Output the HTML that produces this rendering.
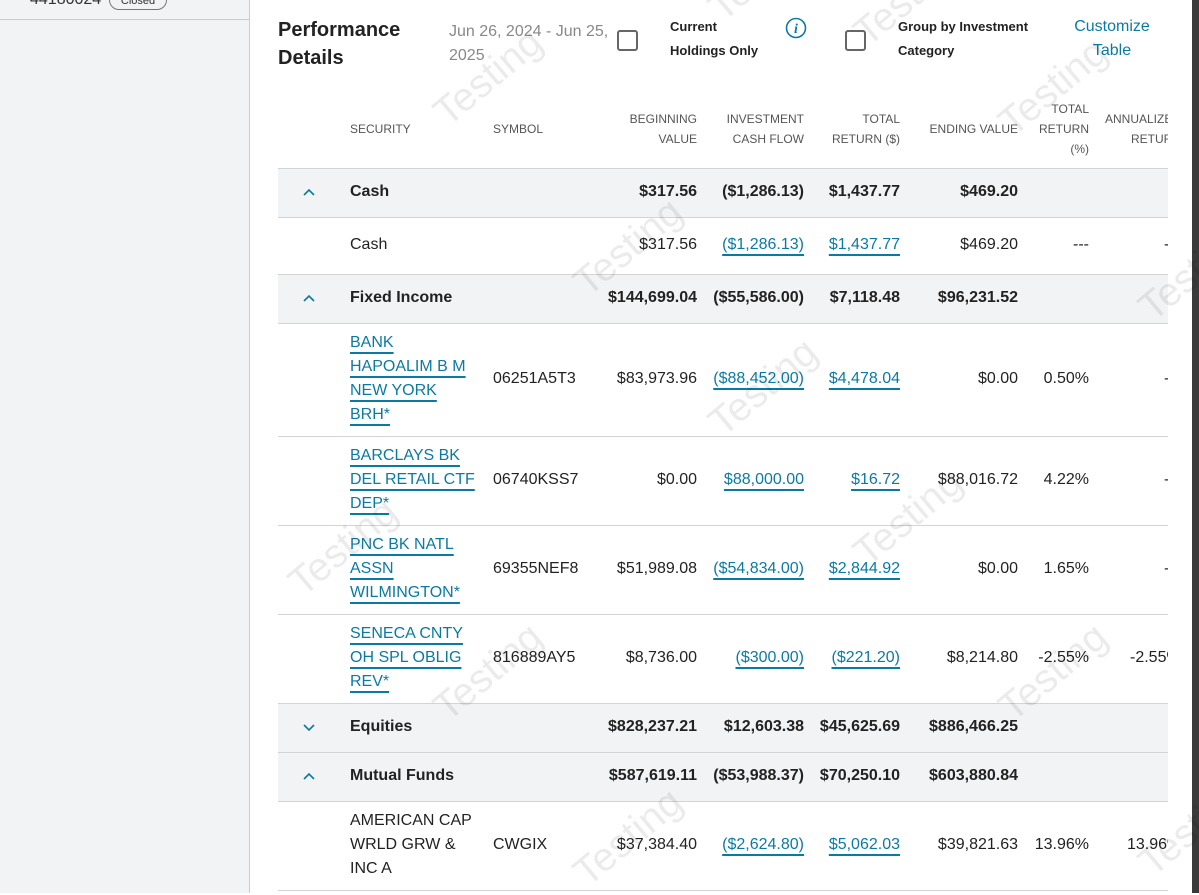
<!DOCTYPE html>
<html><head><meta charset="utf-8">
<style>
*{margin:0;padding:0;box-sizing:border-box}
body{width:1199px;height:893px;overflow:hidden;position:relative;background:#fff;font-family:"Liberation Sans",Arial,sans-serif;color:#222}
.a{position:absolute;white-space:nowrap}
.side{left:0;top:0;width:250px;height:893px;background:#f2f3f5;border-right:1px solid #ccc}
.band{left:278px;width:890px;background:#f2f3f5}
.hl{left:278px;width:890px;height:1px;background:#d4d4d4}
.h{font-size:12px;color:#555;line-height:20px;text-align:right}
.t{font-size:16px;line-height:18px}
.b{font-weight:bold}
.lk{color:#0b7aa3;text-decoration:underline;text-decoration-thickness:2px;text-underline-offset:5px}
.sec{font-size:16px;line-height:24px;left:350px}
.chev{left:302px;width:14px;height:14px}
.wm{font-size:40px;color:rgba(0,0,0,0.08);transform:rotate(-40deg);transform-origin:center;font-family:"Liberation Sans",sans-serif}
.clip{position:absolute;left:0;top:0;width:1168px;height:893px;overflow:hidden}
</style></head><body>
<div class="a side"></div>
<div class="a" style="left:0;top:19px;width:249px;height:1px;background:#ccc"></div>
<div class="a t" style="left:30px;top:-9px;color:#333">44180024</div>
<div class="a" style="left:109px;top:-14px;width:58px;height:24px;border:1.5px solid #777;border-radius:10px;font-size:11px;text-align:center;line-height:28px;color:#333">Closed</div>
<div class="a" style="left:1192px;top:0;width:7px;height:893px;background:#3a3a3a"></div>

<div class="a b" style="left:278px;top:16px;font-size:20px;line-height:28px">Performance<br>Details</div>
<div class="a" style="left:449px;top:20px;font-size:16px;line-height:24px;color:#888">Jun 26, 2024 - Jun 25,<br>2025</div>
<div class="a" style="left:617px;top:30px;width:21px;height:21px;border:2px solid #666;border-radius:3px"></div>
<div class="a b" style="left:670px;top:15px;font-size:13px;line-height:24px">Current<br>Holdings Only</div>
<svg class="a" style="left:785px;top:17px" width="22" height="22"><circle cx="11" cy="11" r="9.5" fill="none" stroke="#0b7aa3" stroke-width="1.6"/><text x="11" y="16" text-anchor="middle" font-size="14" font-style="italic" font-weight="bold" fill="#0b7aa3" font-family="Liberation Serif">i</text></svg>
<div class="a" style="left:845px;top:30px;width:21px;height:21px;border:2px solid #666;border-radius:3px"></div>
<div class="a b" style="left:898px;top:15px;font-size:13px;line-height:24px">Group by Investment<br>Category</div>
<div class="a" style="left:1062px;top:15px;width:100px;font-size:16px;line-height:24px;color:#0b7aa3;text-align:center">Customize<br>Table</div>

<div class="clip">
<div class="a h" style="left:350px;top:119px;text-align:left">SECURITY</div>
<div class="a h" style="left:493px;top:119px;text-align:left">SYMBOL</div>
<div class="a h" style="right:471px;top:109px">BEGINNING<br>VALUE</div>
<div class="a h" style="right:364px;top:109px">INVESTMENT<br>CASH FLOW</div>
<div class="a h" style="right:268px;top:109px">TOTAL<br>RETURN ($)</div>
<div class="a h" style="right:150px;top:119px">ENDING VALUE</div>
<div class="a h" style="right:79px;top:99px">TOTAL<br>RETURN<br>(%)</div>
<div class="a h" style="left:1105px;top:109px">ANNUALIZED<br>&nbsp;&nbsp;&nbsp;&nbsp;&nbsp;&nbsp;&nbsp;RETURN</div>

<div class="a band" style="top:168px;height:49px"></div>
<div class="a band" style="top:274px;height:49px"></div>
<div class="a band" style="top:703px;height:98px"></div>
<div class="a hl" style="top:168px"></div>
<div class="a hl" style="top:217px"></div>
<div class="a hl" style="top:274px"></div>
<div class="a hl" style="top:323px"></div>
<div class="a hl" style="top:436px"></div>
<div class="a hl" style="top:525px"></div>
<div class="a hl" style="top:614px"></div>
<div class="a hl" style="top:703px"></div>
<div class="a hl" style="top:752px"></div>
<div class="a hl" style="top:801px"></div>
<div class="a hl" style="top:890px"></div>

<svg class="a chev" style="top:185px" viewBox="0 0 14 14"><path d="M2 10 L7 5 L12 10" fill="none" stroke="#0b7aa3" stroke-width="1.6"/></svg>
<svg class="a chev" style="top:291px" viewBox="0 0 14 14"><path d="M2 10 L7 5 L12 10" fill="none" stroke="#0b7aa3" stroke-width="1.6"/></svg>
<svg class="a chev" style="top:720px" viewBox="0 0 14 14"><path d="M2 5 L7 10 L12 5" fill="none" stroke="#0b7aa3" stroke-width="1.6"/></svg>
<svg class="a chev" style="top:769px" viewBox="0 0 14 14"><path d="M2 10 L7 5 L12 10" fill="none" stroke="#0b7aa3" stroke-width="1.6"/></svg>

<div class="a t b" style="left:350px;top:183px">Cash</div>
<div class="a t b" style="right:471px;top:183px">$317.56</div>
<div class="a t b" style="right:364px;top:183px">($1,286.13)</div>
<div class="a t b" style="right:268px;top:183px">$1,437.77</div>
<div class="a t b" style="right:150px;top:183px">$469.20</div>

<div class="a t" style="left:350px;top:236px">Cash</div>
<div class="a t" style="right:471px;top:236px">$317.56</div>
<div class="a t lk" style="right:364px;top:236px">($1,286.13)</div>
<div class="a t lk" style="right:268px;top:236px">$1,437.77</div>
<div class="a t" style="right:150px;top:236px">$469.20</div>
<div class="a t" style="right:79px;top:236px">---</div>
<div class="a t" style="left:1164px;top:236px">-</div>

<div class="a t b" style="left:350px;top:289px">Fixed Income</div>
<div class="a t b" style="right:471px;top:289px">$144,699.04</div>
<div class="a t b" style="right:364px;top:289px">($55,586.00)</div>
<div class="a t b" style="right:268px;top:289px">$7,118.48</div>
<div class="a t b" style="right:150px;top:289px">$96,231.52</div>

<div class="a sec lk" style="top:331px">BANK<br>HAPOALIM B M<br>NEW YORK<br>BRH*</div>
<div class="a t" style="left:493px;top:370px">06251A5T3</div>
<div class="a t" style="right:471px;top:370px">$83,973.96</div>
<div class="a t lk" style="right:364px;top:370px">($88,452.00)</div>
<div class="a t lk" style="right:268px;top:370px">$4,478.04</div>
<div class="a t" style="right:150px;top:370px">$0.00</div>
<div class="a t" style="right:79px;top:370px">0.50%</div>
<div class="a t" style="left:1164px;top:370px">-</div>

<div class="a sec lk" style="top:444px">BARCLAYS BK<br>DEL RETAIL CTF<br>DEP*</div>
<div class="a t" style="left:493px;top:471px">06740KSS7</div>
<div class="a t" style="right:471px;top:471px">$0.00</div>
<div class="a t lk" style="right:364px;top:471px">$88,000.00</div>
<div class="a t lk" style="right:268px;top:471px">$16.72</div>
<div class="a t" style="right:150px;top:471px">$88,016.72</div>
<div class="a t" style="right:79px;top:471px">4.22%</div>
<div class="a t" style="left:1164px;top:471px">-</div>

<div class="a sec lk" style="top:533px">PNC BK NATL<br>ASSN<br>WILMINGTON*</div>
<div class="a t" style="left:493px;top:560px">69355NEF8</div>
<div class="a t" style="right:471px;top:560px">$51,989.08</div>
<div class="a t lk" style="right:364px;top:560px">($54,834.00)</div>
<div class="a t lk" style="right:268px;top:560px">$2,844.92</div>
<div class="a t" style="right:150px;top:560px">$0.00</div>
<div class="a t" style="right:79px;top:560px">1.65%</div>
<div class="a t" style="left:1164px;top:560px">-</div>

<div class="a sec lk" style="top:622px">SENECA CNTY<br>OH SPL OBLIG<br>REV*</div>
<div class="a t" style="left:493px;top:649px">816889AY5</div>
<div class="a t" style="right:471px;top:649px">$8,736.00</div>
<div class="a t lk" style="right:364px;top:649px">($300.00)</div>
<div class="a t lk" style="right:268px;top:649px">($221.20)</div>
<div class="a t" style="right:150px;top:649px">$8,214.80</div>
<div class="a t" style="right:79px;top:649px">-2.55%</div>
<div class="a t" style="left:1130px;top:649px">-2.55%</div>

<div class="a t b" style="left:350px;top:718px">Equities</div>
<div class="a t b" style="right:471px;top:718px">$828,237.21</div>
<div class="a t b" style="right:364px;top:718px">$12,603.38</div>
<div class="a t b" style="right:268px;top:718px">$45,625.69</div>
<div class="a t b" style="right:150px;top:718px">$886,466.25</div>

<div class="a t b" style="left:350px;top:767px">Mutual Funds</div>
<div class="a t b" style="right:471px;top:767px">$587,619.11</div>
<div class="a t b" style="right:364px;top:767px">($53,988.37)</div>
<div class="a t b" style="right:268px;top:767px">$70,250.10</div>
<div class="a t b" style="right:150px;top:767px">$603,880.84</div>

<div class="a sec" style="top:809px">AMERICAN CAP<br>WRLD GRW &amp;<br>INC A</div>
<div class="a t" style="left:493px;top:836px">CWGIX</div>
<div class="a t" style="right:471px;top:836px">$37,384.40</div>
<div class="a t lk" style="right:364px;top:836px">($2,624.80)</div>
<div class="a t lk" style="right:268px;top:836px">$5,062.03</div>
<div class="a t" style="right:150px;top:836px">$39,821.63</div>
<div class="a t" style="right:79px;top:836px">13.96%</div>
<div class="a t" style="left:1127px;top:836px">13.96%</div>
</div>

<div class="a wm" style="left:565px;top:225px">Testing</div>
<div class="a wm" style="left:700px;top:365px">Testing</div>
<div class="a wm" style="left:845px;top:495px">Testing</div>
<div class="a wm" style="left:280px;top:525px">Testing</div>
<div class="a wm" style="left:425px;top:650px">Testing</div>
<div class="a wm" style="left:990px;top:650px">Testing</div>
<div class="a wm" style="left:565px;top:815px">Testing</div>
<div class="a wm" style="left:1130px;top:250px">Testing</div>
<div class="a wm" style="left:1130px;top:805px">Testing</div>
<div class="a wm" style="left:425px;top:55px">Testing</div>
<div class="a wm" style="left:990px;top:65px">Testing</div>
<div class="a wm" style="left:845px;top:-25px">Testing</div>
<div class="a wm" style="left:700px;top:-50px">Testing</div>
</body></html>
